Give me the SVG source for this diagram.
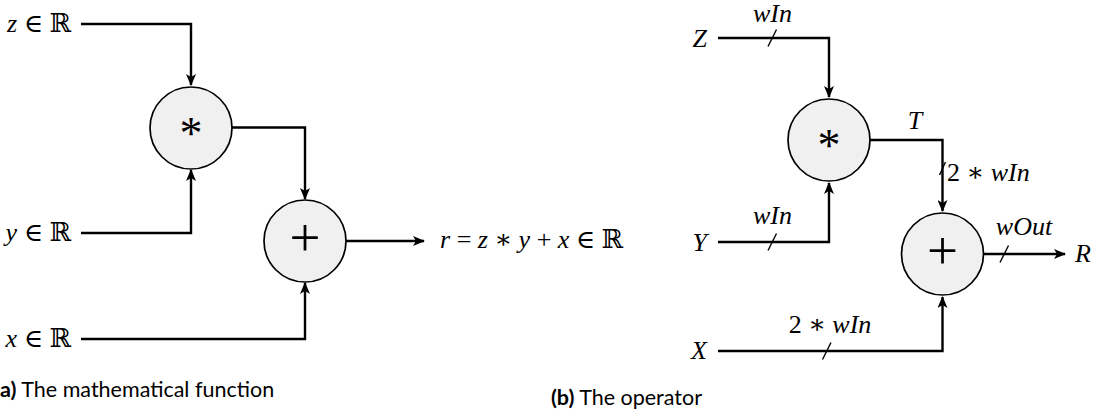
<svg xmlns="http://www.w3.org/2000/svg" width="1104" height="416" viewBox="0 0 1104 416">
<style>
.node{fill:#f0f0f0;stroke:#000;stroke-width:1.7}
.wire{fill:none;stroke:#000;stroke-width:2.4}
.tick{fill:none;stroke:#000;stroke-width:1.4}
.m{font-family:"Liberation Serif","DejaVu Serif",serif;font-size:26px;fill:#000}
.i{font-style:italic}
.op{font-family:"Liberation Serif","DejaVu Serif",serif;fill:#000;text-anchor:middle}
.cap{font-family:Lato,"Liberation Sans",sans-serif;font-size:21.5px;fill:#000}
</style>
<defs>
<marker id="arr" viewBox="0 0 12 10" refX="11" refY="5" markerWidth="12" markerHeight="10" markerUnits="userSpaceOnUse" orient="auto">
<path d="M0,0 L12,5 L0,10 L3,5 Z" fill="#000"/>
</marker>
</defs>
<g id="connectors">
<path class="wire" d="M81,24 H191 V85" marker-end="url(#arr)"/>
<path class="wire" d="M81,233 H191 V170" marker-end="url(#arr)"/>
<path class="wire" d="M232,127.5 H305 V199" marker-end="url(#arr)"/>
<path class="wire" d="M81,339 H305 V283" marker-end="url(#arr)"/>
<path class="wire" d="M346,241 H424" marker-end="url(#arr)"/>
<path class="wire" d="M718,38 H829 V97" marker-end="url(#arr)"/>
<path class="wire" d="M718,242 H829 V183" marker-end="url(#arr)"/>
<path class="wire" d="M870,140 H942.5 V211" marker-end="url(#arr)"/>
<path class="wire" d="M718,351 H942.5 V297" marker-end="url(#arr)"/>
<path class="wire" d="M983,254 H1065" marker-end="url(#arr)"/>
<path class="tick" d="M768,46.5 L776.5,29.5"/>
<path class="tick" d="M768,250.5 L776.5,233.5"/>
<path class="tick" d="M822.5,359.5 L831,342.5"/>
<path class="tick" d="M1000,262.5 L1008.5,245.5"/>
<path class="tick" d="M939.5,175 L945.5,162"/>
</g>
<g id="node-mul-a">
<circle class="node" cx="191" cy="128" r="41"/>
<text class="op" x="191" y="149" font-size="46">*</text>
</g>
<g id="node-add-a">
<circle class="node" cx="305" cy="241" r="41"/>
<text class="op" x="305" y="256" font-size="55">+</text>
</g>
<g id="node-mul-b">
<circle class="node" cx="829" cy="140" r="41"/>
<text class="op" x="829" y="161" font-size="46">*</text>
</g>
<g id="node-add-b">
<circle class="node" cx="942.5" cy="254" r="41"/>
<text class="op" x="942.5" y="269" font-size="55">+</text>
</g>
<g id="labels-a">
<text class="m" x="71" y="32" text-anchor="end"><tspan class="i">z</tspan> ∈ ℝ</text>
<text class="m" x="71" y="241" text-anchor="end"><tspan class="i">y</tspan> ∈ ℝ</text>
<text class="m" x="71" y="347" text-anchor="end"><tspan class="i">x</tspan> ∈ ℝ</text>
<text class="m" x="440" y="248"><tspan class="i">r</tspan> = <tspan class="i">z</tspan> ∗ <tspan class="i">y</tspan> + <tspan class="i">x</tspan> ∈ ℝ</text>
</g>
<g id="labels-b">
<text class="m i" x="707" y="47" text-anchor="end">Z</text>
<text class="m i" x="707" y="251" text-anchor="end">Y</text>
<text class="m i" x="707" y="359" text-anchor="end">X</text>
<text class="m i" x="1075" y="262">R</text>
<text class="m i" x="772.5" y="22" text-anchor="middle">wIn</text>
<text class="m i" x="772.5" y="224" text-anchor="middle">wIn</text>
<text class="m" x="830" y="333" text-anchor="middle">2 ∗ <tspan class="i">wIn</tspan></text>
<text class="m i" x="915" y="129" text-anchor="middle">T</text>
<text class="m" x="947" y="181">2 ∗ <tspan class="i">wIn</tspan></text>
<text class="m i" x="1024" y="235" text-anchor="middle">wOut</text>
</g>
<g id="captions">
<text class="cap" x="0" y="397"><tspan font-weight="bold">a)</tspan> The mathematical function</text>
<text class="cap" x="702" y="405" text-anchor="end"><tspan font-weight="bold">(b)</tspan> The operator</text>
</g>
</svg>
